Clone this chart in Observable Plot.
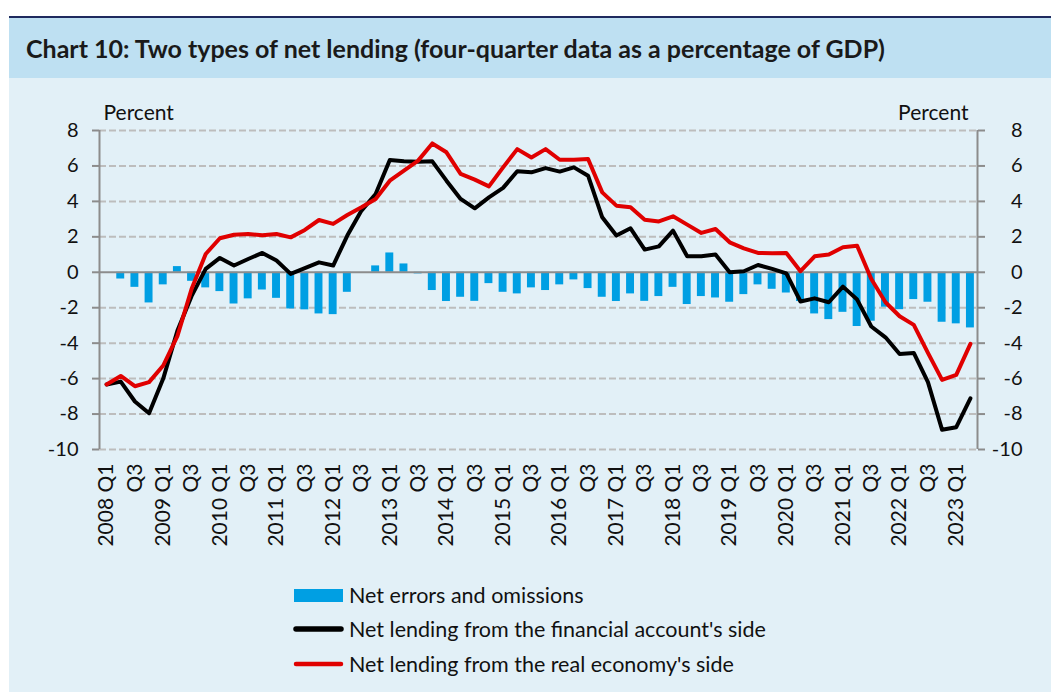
<!DOCTYPE html>
<html>
<head>
<meta charset="utf-8">
<script src="https://cdn.jsdelivr.net/npm/d3@7"></script>
<script src="https://cdn.jsdelivr.net/npm/@observablehq/plot@0.6"></script>
<style>
  html, body { margin: 0; padding: 0; background: #ffffff; }
  body { width: 1051px; height: 692px; position: relative; overflow: hidden; font-family: Lato, "Open Sans", sans-serif; }
  #frame { position: absolute; left: 9px; top: 16px; width: 1042px; height: 676px; background: #e2f0f7; border-top: 2.5px solid #1f2a5e; box-sizing: border-box; }
  #titlebar { position: absolute; left: 9px; top: 18px; width: 1042px; height: 60px; background: #bee0f2; }
  #title { position: absolute; left: 26px; top: 36px; font-size: 25px; line-height: 25px; font-weight: 700; color: #1a1a1a; white-space: nowrap; }
  #chart { position: absolute; left: 0; top: 78px; }
  #legend { position: absolute; left: 292px; top: 578px; font-size: 21.5px; color: #111; }
  .row { height: 34.3px; display: flex; align-items: center; white-space: nowrap; }
  .row svg { margin-right: 5px; }
</style>
</head>
<body>
<div id="frame"></div>
<div id="titlebar"></div>
<div id="title">Chart 10: Two types of net lending (four-quarter data as a percentage of GDP)</div>
<div id="chart"></div>
<div id="legend"></div>
<script>
// ---- data ----
const years = [2008, 2009, 2010, 2011, 2012, 2013, 2014, 2015, 2016, 2017, 2018, 2019, 2020, 2021, 2022, 2023];
const quarterNames = ["Q1", "Q2", "Q3", "Q4"];
const quarters = years.flatMap(y => quarterNames.map(q => `${y} ${q}`)).slice(0, 62); // 2008 Q1 .. 2023 Q2

const netErrors = [
  0, -0.38, -0.85, -1.73, -0.71, 0.32, -0.51, -0.88, -1.09, -1.79,
  -1.50, -1.00, -1.47, -2.07, -2.12, -2.35, -2.39, -1.13, 0, 0.36,
  1.09, 0.47, -0.09, -1.03, -1.65, -1.41, -1.64, -0.64, -1.13, -1.22,
  -0.88, -1.03, -0.71, -0.43, -0.92, -1.41, -1.65, -1.22, -1.64, -1.37,
  -0.85, -1.82, -1.37, -1.45, -1.69, -1.26, -0.71, -0.96, -1.17, -1.65,
  -2.35, -2.67, -2.26, -3.06, -2.76, -1.97, -2.11, -1.54, -1.69, -2.82,
  -2.91, -3.14
];
const financialSide = [
  -6.33, -6.17, -7.29, -7.95, -6.0, -3.3, -1.35, 0.19, 0.81, 0.38,
  0.75, 1.09, 0.66, -0.09, 0.23, 0.56, 0.38, 2.07, 3.48, 4.42,
  6.33, 6.26, 6.24, 6.26, 5.17, 4.14, 3.61, 4.23, 4.76, 5.70,
  5.64, 5.88, 5.68, 5.92, 5.45, 3.10, 2.07, 2.48, 1.28, 1.46,
  2.35, 0.90, 0.90, 1.00, 0.0, 0.06, 0.41, 0.19, -0.06, -1.65,
  -1.47, -1.69, -0.81, -1.54, -3.06, -3.67, -4.61, -4.55, -6.20, -8.89,
  -8.74, -7.11
];
const realEconomySide = [
  -6.33, -5.85, -6.43, -6.20, -5.26, -3.6, -0.95, 1.03, 1.92, 2.12,
  2.16, 2.09, 2.16, 1.97, 2.39, 2.95, 2.73, 3.23, 3.67, 4.14,
  5.17, 5.73, 6.30, 7.27, 6.77, 5.55, 5.23, 4.85, 5.92, 6.95,
  6.48, 6.95, 6.35, 6.35, 6.39, 4.51, 3.76, 3.67, 2.97, 2.87,
  3.16, 2.69, 2.22, 2.44, 1.69, 1.35, 1.09, 1.07, 1.09, 0.06,
  0.90, 1.00, 1.41, 1.50, -0.38, -1.69, -2.48, -2.97, -4.55, -6.07,
  -5.79, -4.04
];
const yTicks = [-10, -8, -6, -4, -2, 0, 2, 4, 6, 8];
const seriesNames = ["Net errors and omissions", "Net lending from the financial account's side", "Net lending from the real economy's side"];
const colors = ["#009fe3", "#000000", "#e00000"];

// ---- table ----
const rows = quarters.map((q, i) => ({i, q, err: netErrors[i], fin: financialSide[i], real: realEconomySide[i]}));
const xTickIdx = quarters.map((q, i) => i).filter(i => i % 2 === 0);
const tickLabel = i => quarters[i].endsWith("Q1") ? quarters[i] : quarters[i].split(" ")[1];
const yFmt = d => String(d);
const xMin = -0.5, xMax = quarters.length - 0.5;

const half = 0.28;
const plot = Plot.plot({
  width: 1051,
  height: 482,
  marginTop: 52,
  marginBottom: 111,
  marginLeft: 99,
  marginRight: 74,
  style: {background: "transparent", fontFamily: "Lato, 'Open Sans', sans-serif", fontSize: "20px", color: "#111"},
  x: {type: "linear", domain: [xMin, xMax]},
  y: {domain: [-10, 8]},
  marks: [
    Plot.ruleY(yTicks.filter(t => t !== 0), {stroke: "#bdbdbd", strokeWidth: 2, strokeDasharray: "7,3"}),
    Plot.rectY(rows, {x1: d => d.i - half, x2: d => d.i + half, y: "err", fill: colors[0]}),
    Plot.ruleY([0], {stroke: "#8c8c8c", strokeWidth: 2}),
    Plot.ruleX([xMin, xMax], {y1: -10, y2: 8, stroke: "#8c8c8c", strokeWidth: 2}),
    Plot.lineY(rows, {x: "i", y: "fin", stroke: colors[1], strokeWidth: 4, strokeLinejoin: "round"}),
    Plot.lineY(rows, {x: "i", y: "real", stroke: colors[2], strokeWidth: 4, strokeLinejoin: "round"}),
    Plot.axisY(yTicks, {anchor: "left", tickSize: 7, tickPadding: 14, tickFormat: yFmt, stroke: "#8c8c8c", strokeWidth: 2, fill: "#111", label: null, fontSize: 20}),
    Plot.axisY(yTicks, {anchor: "right", tickSize: 7, tickFormat: () => "", stroke: "#8c8c8c", strokeWidth: 2, label: null}),
    Plot.text(yTicks, {x: xMax, y: d => d, text: yFmt, dx: 45, textAnchor: "end", fontSize: 20, fill: "#111"}),
    Plot.axisX(xTickIdx, {anchor: "bottom", tickSize: 0, tickPadding: 14, tickRotate: -90, tickFormat: tickLabel, fill: "#111", label: null, fontSize: 21}),
    Plot.text(["Percent"], {x: xMin, y: 8, dx: 4, dy: -17, textAnchor: "start", fontSize: 21, fill: "#111"}),
    Plot.text(["Percent"], {x: xMax, y: 8, dx: -9, dy: -17, textAnchor: "end", fontSize: 21, fill: "#111"})
  ]
});
document.getElementById("chart").appendChild(plot);

// ---- legend ----
const legend = document.getElementById("legend");
seriesNames.forEach((name, k) => {
  const row = document.createElement("div");
  row.className = "row";
  const sw = k === 0
    ? `<svg width="52" height="14"><rect x="2" y="1" width="49" height="13" fill="${colors[0]}"/></svg>`
    : `<svg width="52" height="14"><line x1="4" y1="7" x2="49" y2="7" stroke="${colors[k]}" stroke-width="${k === 1 ? 5.5 : 4.5}" stroke-linecap="round"/></svg>`;
  row.innerHTML = sw + `<span>${name}</span>`;
  legend.appendChild(row);
});
</script>
</body>
</html>
